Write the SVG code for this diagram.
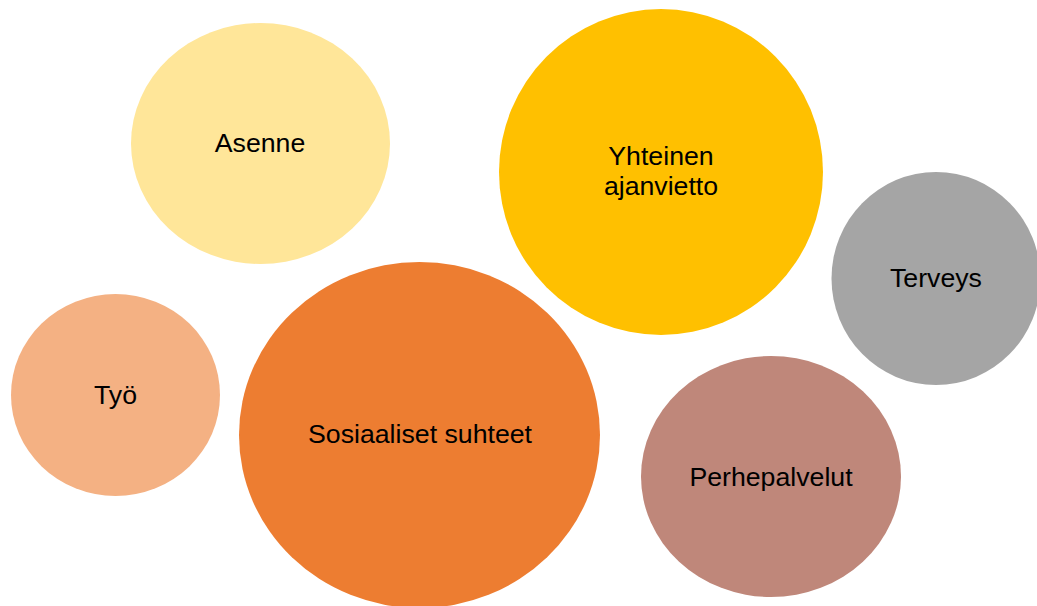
<svg xmlns="http://www.w3.org/2000/svg" width="1037" height="606" viewBox="0 0 1037 606">
<style>
text{font-family:"Liberation Sans",Arial,sans-serif;font-size:26.7px;fill:#000;text-anchor:middle}
</style>
<rect width="1037" height="606" fill="#fff"/>
<g id="connectors"/>
<g id="asenne"><ellipse cx="260.5" cy="143.5" rx="129.5" ry="120.5" fill="#FFE699"/><text x="260" y="152">Asenne</text></g>
<g id="yhteinen"><ellipse cx="661" cy="172" rx="162" ry="163" fill="#FFC000"/><text x="661" y="165">Yhteinen</text><text x="661" y="195">ajanvietto</text></g>
<g id="terveys"><ellipse cx="936" cy="278.5" rx="104.5" ry="106.5" fill="#A5A5A5"/><text x="936" y="287">Terveys</text></g>
<g id="tyo"><ellipse cx="115.5" cy="395" rx="104.5" ry="101" fill="#F4B183"/><text x="115.5" y="404">Työ</text></g>
<g id="sosiaaliset"><ellipse cx="419.5" cy="435" rx="180.5" ry="173" fill="#ED7D31"/><text x="420" y="443">Sosiaaliset suhteet</text></g>
<g id="perhepalvelut"><ellipse cx="771" cy="476.5" rx="130" ry="120.5" fill="#BF877A"/><text x="771" y="486">Perhepalvelut</text></g>
</svg>
